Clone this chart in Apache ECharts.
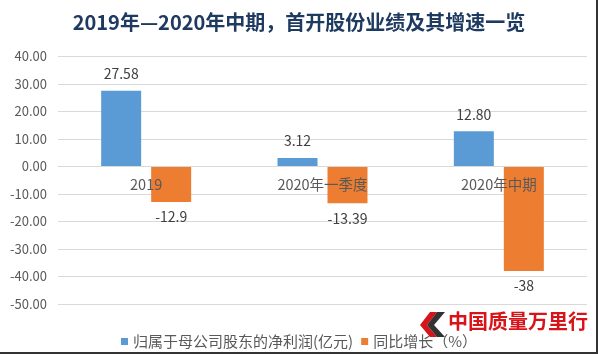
<!DOCTYPE html>
<html lang="zh">
<head>
    <meta charset="utf-8">
    <title>首开股份业绩及其增速</title>
    <script src="https://cdn.jsdelivr.net/npm/echarts@6/dist/echarts.min.js"></script>
    <style>
        html, body, #chart {
            width: 100%; height: 100%; margin: 0; padding: 0; overflow: hidden; background-color: #ffffff;
        }
    </style>
</head>
<body>
<div id="chart"></div>
<script type="text/javascript">
    // 数据
    var categories = ['2019', '2020年一季度', '2020年中期'];
    var profitValues = [27.58, 3.12, 12.80];
    var growthValues = [-12.9, -13.39, -38];
    var profitLabels = ['27.58', '3.12', '12.80'];
    var growthLabels = ['-12.9', '-13.39', '-38'];

    var chart = echarts.init(document.getElementById('chart'));
    var font = '"Noto Sans CJK SC", "Noto Sans", sans-serif';

    var gridTop = 56.5, gridBottom = 50, yMin = -50, yMax = 40;
    // x轴移到0刻度处
    var plotH = 354 - gridTop - gridBottom;
    var zeroOffset = -plotH * (0 - yMin) / (yMax - yMin);

    var option = {
        backgroundColor: '#ffffff',
        animation: false,
        title: {
            text: '2019年—2020年中期，首开股份业绩及其增速一览',
            left: 'center',
            top: 7,
            textStyle: {
                color: '#1f3a60',
                fontSize: 20,
                fontWeight: 'bold',
                fontFamily: font
            }
        },
        legend: {
            top: 329,
            left: 'center',
            itemWidth: 7,
            itemHeight: 7,
            itemGap: 8,
            icon: 'rect',
            textStyle: { color: '#595959', fontSize: 15, fontFamily: font },
            data: ['归属于母公司股东的净利润(亿元)', '同比增长（%）']
        },
        grid: {
            left: 58,
            right: 11,
            top: gridTop,
            bottom: gridBottom,
            containLabel: false
        },
        xAxis: {
            type: 'category',
            data: categories,
            z: 5,
            offset: zeroOffset,
            axisLine: { onZero: false, lineStyle: { color: '#d9d9d9' } },
            axisTick: { show: false },
            axisLabel: {
                color: '#595959',
                fontSize: 14.5,
                margin: 11,
                fontFamily: font
            }
        },
        yAxis: {
            type: 'value',
            min: yMin,
            max: yMax,
            interval: 10,
            axisLine: { show: false },
            axisTick: { show: false },
            splitLine: { lineStyle: { color: '#d9d9d9' } },
            axisLabel: {
                color: '#595959',
                fontSize: 13,
                margin: 11,
                fontFamily: font,
                formatter: function (v) { return v.toFixed(2); }
            }
        },
        series: [
            {
                name: '归属于母公司股东的净利润(亿元)',
                type: 'bar',
                data: profitValues,
                barWidth: 40,
                barGap: '25%',
                itemStyle: { color: '#5b9bd5' },
                label: {
                    show: true,
                    position: 'top',
                    distance: 10,
                    color: '#404040',
                    fontSize: 14,
                    fontFamily: font,
                    formatter: function (p) { return profitLabels[p.dataIndex]; }
                }
            },
            {
                name: '同比增长（%）',
                type: 'bar',
                data: growthValues,
                barWidth: 40,
                itemStyle: { color: '#ed7d31' },
                label: {
                    show: true,
                    position: 'bottom',
                    distance: 8,
                    color: '#404040',
                    fontSize: 14,
                    fontFamily: font,
                    formatter: function (p) { return growthLabels[p.dataIndex]; }
                }
            }
        ],
        graphic: [
            // 水印
            {
                type: 'polygon',
                z: 10,
                shape: { points: [[430, 312], [437, 312], [427, 325], [437, 337], [430, 337], [420, 325]] },
                style: { fill: '#d7141a' }
            },
            {
                type: 'polygon',
                z: 10,
                shape: { points: [[437, 312], [445, 312], [434, 325], [445, 337], [437, 337], [427, 325]] },
                style: { fill: '#333333' }
            },
            {
                type: 'text',
                z: 10,
                left: 448,
                top: 311,
                style: {
                    text: '中国质量万里行',
                    fill: '#d7141a',
                    fontSize: 20,
                    fontWeight: 'bold',
                    fontFamily: '"Noto Sans CJK SC", sans-serif'
                }
            },
            // 边框
            {
                type: 'line',
                z: 10,
                shape: { x1: 597, y1: 0, x2: 597, y2: 354 },
                style: { stroke: '#333333', lineWidth: 2 }
            },
            {
                type: 'line',
                z: 10,
                shape: { x1: 0, y1: 353, x2: 598, y2: 353 },
                style: { stroke: '#333333', lineWidth: 2 }
            }
        ]
    };

    chart.setOption(option);
</script>
</body>
</html>
